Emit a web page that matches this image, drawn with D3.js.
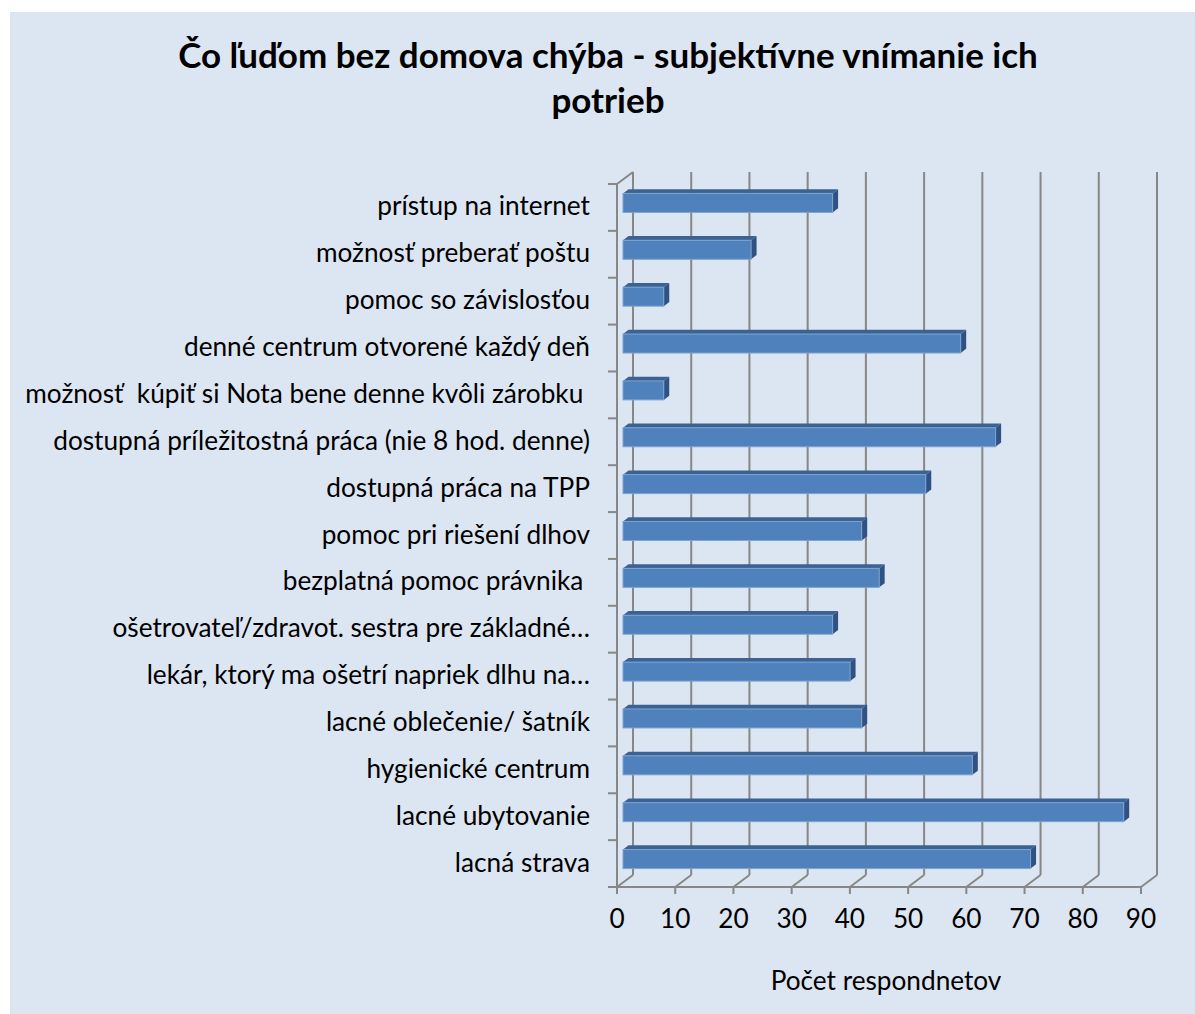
<!DOCTYPE html>
<html>
<head>
<meta charset="utf-8">
<script src="https://cdn.jsdelivr.net/npm/d3@7"></script>
<style>
  html, body { margin: 0; padding: 0; background: #ffffff; }
  svg { display: block; }
  text { font-family: Lato, "Open Sans", sans-serif; white-space: pre; }
</style>
</head>
<body>
<svg id="chart" width="1195" height="1014"></svg>
<script>
// ---- data ----
const titleLines = ["Čo ľuďom bez domova chýba - subjektívne vnímanie ich", "potrieb"];
const categories = [
  "prístup na internet",
  "možnosť preberať poštu",
  "pomoc so závislosťou",
  "denné centrum otvorené každý deň",
  "možnosť  kúpiť si Nota bene denne kvôli zárobku ",
  "dostupná príležitostná práca (nie 8 hod. denne)",
  "dostupná práca na TPP",
  "pomoc pri riešení dlhov",
  "bezplatná pomoc právnika ",
  "ošetrovateľ/zdravot. sestra pre základné…",
  "lekár, ktorý ma ošetrí napriek dlhu na…",
  "lacné oblečenie/ šatník",
  "hygienické centrum",
  "lacné ubytovanie",
  "lacná strava"
];
const values = [36, 22, 7, 58, 7, 64, 52, 41, 44, 36, 39, 41, 60, 86, 70];
const tickValues = [0, 10, 20, 30, 40, 50, 60, 70, 80, 90];
const xAxisTitle = "Počet respondnetov";

// ---- layout ----
const svg = d3.select("#chart");
const DX = 16, DY = -12;          // wall depth offset
const BX = 6, BY = -4.5;          // bar front offset inside depth
const BDX = 5.5, BDY = -4.2;      // bar depth
const barH = 19;
const gridColor = "#878787";

svg.append("rect").attr("x", 10).attr("y", 12).attr("width", 1185).attr("height", 1002)
  .attr("fill", "#dce6f2");

const x = d3.scaleLinear().domain([0, 90]).range([617, 1141]);
const y = d3.scaleBand().domain(categories).range([184, 887]).paddingInner(0).paddingOuter(0);
const yTop = 184, yBot = 887;

// fit font size helper
function fitSize(str, target, weight) {
  const t = svg.append("text").attr("font-size", 100).attr("font-weight", weight).text(str);
  const w = t.node().getComputedTextLength();
  t.remove();
  return 100 * target / w;
}

// title
const titleSize = fitSize(titleLines[0], 860, "bold");
svg.append("g").selectAll("text").data(titleLines).join("text")
  .attr("x", 608).attr("y", (d, i) => 68 + i * 45)
  .attr("text-anchor", "middle").attr("font-weight", "bold")
  .attr("font-size", titleSize).attr("fill", "#000").text(d => d);

// back wall gridlines
const grid = svg.append("g").attr("stroke", gridColor).attr("stroke-width", 2).attr("fill", "none");
grid.selectAll("line.back").data(tickValues).join("line").attr("class", "back")
  .attr("x1", d => x(d) + DX).attr("x2", d => x(d) + DX)
  .attr("y1", yTop + DY).attr("y2", yBot + DY);
// floor diagonals
grid.selectAll("line.diag").data(tickValues).join("line").attr("class", "diag")
  .attr("x1", d => x(d)).attr("x2", d => x(d) + DX)
  .attr("y1", yBot).attr("y2", yBot + DY);
// front floor line
grid.append("line").attr("x1", x(0)).attr("x2", x(90)).attr("y1", yBot).attr("y2", yBot);
// left wall front line + top diagonal
grid.append("line").attr("x1", x(0)).attr("x2", x(0)).attr("y1", yTop).attr("y2", yBot);
grid.append("line").attr("x1", x(0)).attr("x2", x(0) + DX).attr("y1", yTop).attr("y2", yTop + DY);
// bottom ticks
grid.selectAll("line.xt").data(tickValues).join("line").attr("class", "xt")
  .attr("x1", d => x(d)).attr("x2", d => x(d)).attr("y1", yBot).attr("y2", yBot + 7);
// category ticks
const catEdges = categories.map(c => y(c)).concat([yBot]);
grid.selectAll("line.yt").data(catEdges).join("line").attr("class", "yt")
  .attr("x1", x(0) - 9).attr("x2", x(0)).attr("y1", d => d).attr("y2", d => d);

// bars
const bars = svg.append("g");
const rows = categories.map((c, i) => ({ c, v: values[i] }));
rows.forEach(r => {
  const x0 = x(0) + BX, x1 = x(r.v) + BX;
  const cy = y(r.c) + y.bandwidth() / 2 + BY;
  const y0 = cy - barH / 2, y1 = cy + barH / 2;
  const g = bars.append("g");
  g.append("polygon")
    .attr("points", [[x0, y0], [x0 + BDX, y0 + BDY], [x1 + BDX, y0 + BDY], [x1, y0]].map(p => p.join(",")).join(" "))
    .attr("fill", "#3c6294");
  g.append("polygon")
    .attr("points", [[x1, y0], [x1 + BDX, y0 + BDY], [x1 + BDX, y1 + BDY], [x1, y1]].map(p => p.join(",")).join(" "))
    .attr("fill", "#2f5283");
  g.append("rect").attr("x", x0).attr("y", y0).attr("width", x1 - x0).attr("height", barH)
    .attr("fill", "#4f81bd").attr("stroke", "#7ea3d1").attr("stroke-width", 1);
});

// category labels
const labSize = fitSize(categories[5], 537, "normal");
svg.append("g").selectAll("text").data(categories).join("text")
  .attr("x", 590).attr("y", d => y(d) + y.bandwidth() / 2 + 8)
  .attr("text-anchor", "end").attr("font-size", labSize).attr("fill", "#000")
  .text(d => d);

// tick labels
svg.append("g").selectAll("text").data(tickValues).join("text")
  .attr("x", d => x(d)).attr("y", 928)
  .attr("text-anchor", "middle").attr("font-size", labSize).attr("fill", "#000")
  .text(d => d);

// axis title
svg.append("text").attr("x", 886).attr("y", 990).attr("text-anchor", "middle")
  .attr("font-size", labSize).attr("fill", "#000").text(xAxisTitle);
</script>
</body>
</html>
